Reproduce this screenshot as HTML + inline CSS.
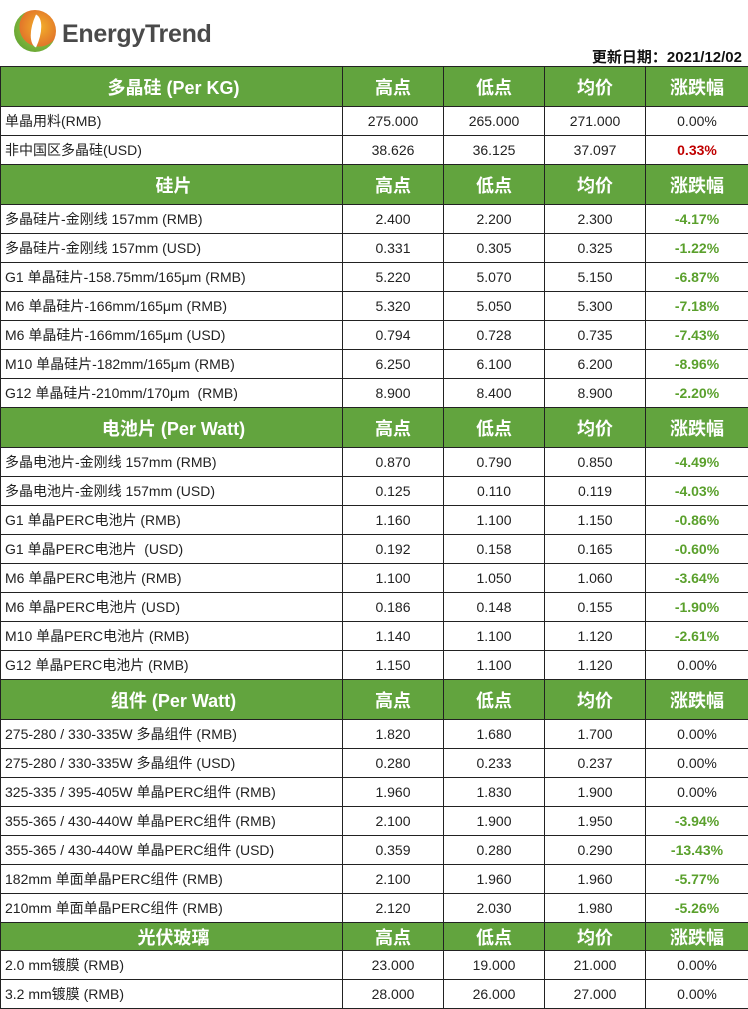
<!DOCTYPE html>
<html><head><meta charset="utf-8"><style>
body{margin:0;width:748px;height:1008px;background:#fff;font-family:"Liberation Sans","Noto Sans CJK SC",sans-serif;overflow:hidden;position:relative}
.logo{position:absolute;left:14px;top:10px;width:42px;height:42px;border-radius:50%;background:radial-gradient(circle at 60% 40%,#f3b12a,#e2762a 55%,#7bb23a 56%,#4f9a2e)}
.logo:after{content:"";position:absolute;left:15px;top:6px;width:14px;height:30px;background:#fff;border-radius:0 100% 0 100%;transform:rotate(25deg)}
.brand{position:absolute;left:62px;top:20px;font-size:25px;font-weight:bold;color:#4a4a4a;letter-spacing:-0.3px}
.date{position:absolute;right:6px;top:46px;font-size:15px;font-weight:bold;color:#111}
table{position:absolute;left:0;top:66px;border-collapse:collapse;width:748px;table-layout:fixed}
td{border:1.5px solid #222;padding:0;font-size:14px;color:#222;text-align:center;height:28px;white-space:nowrap;overflow:hidden}
td:first-child{text-align:left;padding-left:4px}
tr.h td{background:#62a43e;color:#fff;font-size:18px;font-weight:bold;height:39px;text-align:center}
tr.h.s td{height:27px}
.g{color:#5aa02c;font-weight:bold}.r{color:#c00000;font-weight:bold}
</style></head><body>
<div class="logo"></div><div class="brand">EnergyTrend</div>
<div class="date">更新日期：2021/12/02</div>
<table>
<col style="width:342px"><col style="width:101px"><col style="width:101px"><col style="width:101px"><col style="width:103px">
<tr class="h"><td>多晶硅 (Per KG)</td><td>高点</td><td>低点</td><td>均价</td><td>涨跌幅</td></tr>
<tr><td>单晶用料(RMB)</td><td>275.000</td><td>265.000</td><td>271.000</td><td>0.00%</td></tr>
<tr><td>非中国区多晶硅(USD)</td><td>38.626</td><td>36.125</td><td>37.097</td><td class="r">0.33%</td></tr>
<tr class="h"><td>硅片</td><td>高点</td><td>低点</td><td>均价</td><td>涨跌幅</td></tr>
<tr><td>多晶硅片-金刚线 157mm (RMB)</td><td>2.400</td><td>2.200</td><td>2.300</td><td class="g">-4.17%</td></tr>
<tr><td>多晶硅片-金刚线 157mm (USD)</td><td>0.331</td><td>0.305</td><td>0.325</td><td class="g">-1.22%</td></tr>
<tr><td>G1 单晶硅片-158.75mm/165μm (RMB)</td><td>5.220</td><td>5.070</td><td>5.150</td><td class="g">-6.87%</td></tr>
<tr><td>M6 单晶硅片-166mm/165μm (RMB)</td><td>5.320</td><td>5.050</td><td>5.300</td><td class="g">-7.18%</td></tr>
<tr><td>M6 单晶硅片-166mm/165μm (USD)</td><td>0.794</td><td>0.728</td><td>0.735</td><td class="g">-7.43%</td></tr>
<tr><td>M10 单晶硅片-182mm/165μm (RMB)</td><td>6.250</td><td>6.100</td><td>6.200</td><td class="g">-8.96%</td></tr>
<tr><td>G12 单晶硅片-210mm/170μm &nbsp;(RMB)</td><td>8.900</td><td>8.400</td><td>8.900</td><td class="g">-2.20%</td></tr>
<tr class="h"><td>电池片 (Per Watt)</td><td>高点</td><td>低点</td><td>均价</td><td>涨跌幅</td></tr>
<tr><td>多晶电池片-金刚线 157mm (RMB)</td><td>0.870</td><td>0.790</td><td>0.850</td><td class="g">-4.49%</td></tr>
<tr><td>多晶电池片-金刚线 157mm (USD)</td><td>0.125</td><td>0.110</td><td>0.119</td><td class="g">-4.03%</td></tr>
<tr><td>G1 单晶PERC电池片 (RMB)</td><td>1.160</td><td>1.100</td><td>1.150</td><td class="g">-0.86%</td></tr>
<tr><td>G1 单晶PERC电池片 &nbsp;(USD)</td><td>0.192</td><td>0.158</td><td>0.165</td><td class="g">-0.60%</td></tr>
<tr><td>M6 单晶PERC电池片 (RMB)</td><td>1.100</td><td>1.050</td><td>1.060</td><td class="g">-3.64%</td></tr>
<tr><td>M6 单晶PERC电池片 (USD)</td><td>0.186</td><td>0.148</td><td>0.155</td><td class="g">-1.90%</td></tr>
<tr><td>M10 单晶PERC电池片 (RMB)</td><td>1.140</td><td>1.100</td><td>1.120</td><td class="g">-2.61%</td></tr>
<tr><td>G12 单晶PERC电池片 (RMB)</td><td>1.150</td><td>1.100</td><td>1.120</td><td>0.00%</td></tr>
<tr class="h"><td>组件 (Per Watt)</td><td>高点</td><td>低点</td><td>均价</td><td>涨跌幅</td></tr>
<tr><td>275-280 / 330-335W 多晶组件 (RMB)</td><td>1.820</td><td>1.680</td><td>1.700</td><td>0.00%</td></tr>
<tr><td>275-280 / 330-335W 多晶组件 (USD)</td><td>0.280</td><td>0.233</td><td>0.237</td><td>0.00%</td></tr>
<tr><td>325-335 / 395-405W 单晶PERC组件 (RMB)</td><td>1.960</td><td>1.830</td><td>1.900</td><td>0.00%</td></tr>
<tr><td>355-365 / 430-440W 单晶PERC组件 (RMB)</td><td>2.100</td><td>1.900</td><td>1.950</td><td class="g">-3.94%</td></tr>
<tr><td>355-365 / 430-440W 单晶PERC组件 (USD)</td><td>0.359</td><td>0.280</td><td>0.290</td><td class="g">-13.43%</td></tr>
<tr><td>182mm 单面单晶PERC组件 (RMB)</td><td>2.100</td><td>1.960</td><td>1.960</td><td class="g">-5.77%</td></tr>
<tr><td>210mm 单面单晶PERC组件 (RMB)</td><td>2.120</td><td>2.030</td><td>1.980</td><td class="g">-5.26%</td></tr>
<tr class="h s"><td>光伏玻璃</td><td>高点</td><td>低点</td><td>均价</td><td>涨跌幅</td></tr>
<tr><td>2.0 mm镀膜 (RMB)</td><td>23.000</td><td>19.000</td><td>21.000</td><td>0.00%</td></tr>
<tr><td>3.2 mm镀膜 (RMB)</td><td>28.000</td><td>26.000</td><td>27.000</td><td>0.00%</td></tr>
</table>
</body></html>
